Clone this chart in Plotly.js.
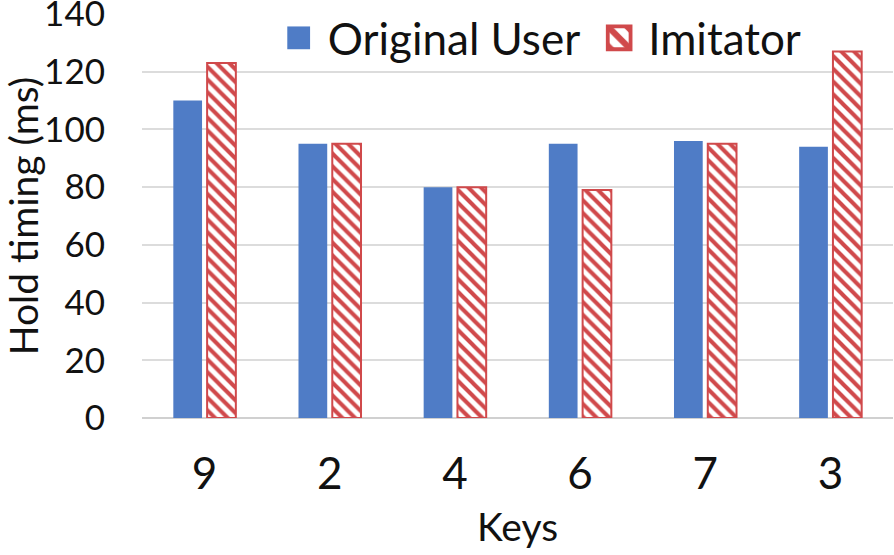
<!DOCTYPE html>
<html>
<head>
<meta charset="utf-8">
<script src="https://cdn.plot.ly/plotly-3.0.1.min.js"></script>
<style>
  html, body { margin: 0; padding: 0; background: #fff; }
  #chart { width: 894px; height: 555px; }
</style>
</head>
<body>
<div id="chart"></div>
<script>
// hold timing per key, original user vs imitator (ms)
const keys = ["9", "2", "4", "6", "7", "3"];
const originalUser = [110, 95, 80, 95, 96, 94];
const imitator = [123, 95, 80, 79, 95, 127];
const yTicks = [0, 20, 40, 60, 80, 100, 120, 140];

const font = "Lato, 'Open Sans', sans-serif";

const traces = [
  {
    x: keys, y: originalUser, name: "Original User", type: "bar",
    marker: { color: "#4f7cc6", line: { width: 0 } }
  },
  {
    x: keys, y: imitator, name: "Imitator", type: "bar",
    marker: {
      color: "#ffffff",
      line: { color: "#d0494b", width: 2 },
      pattern: { shape: "\\", fgcolor: "#d0494b", bgcolor: "#ffffff", size: 9, solidity: 0.45 }
    }
  }
];

const layout = {
  width: 894, height: 555,
  paper_bgcolor: "white", plot_bgcolor: "white",
  margin: { l: 142, r: 1, t: 14, b: 137 },
  font: { family: font, color: "#111", size: 35 },
  barmode: "group", bargap: 0.46, bargroupgap: 0.15,
  showlegend: true,
  legend: {
    orientation: "h", x: 0.182, y: 0.94, xanchor: "left", yanchor: "middle",
    bgcolor: "rgba(255,255,255,0)", font: { size: 44 },
    traceorder: "normal"
  },
  xaxis: {
    type: "category",
    showgrid: false, showline: false, zeroline: false, ticks: "",
    tickfont: { size: 44 }, ticklabelstandoff: 26,
    title: { text: "Keys", font: { size: 39 }, standoff: 16 }
  },
  yaxis: {
    range: [0, 140], tickvals: yTicks, showgrid: true, gridcolor: "#dcdcdc", gridwidth: 2,
    zeroline: true, zerolinecolor: "#d0d0d0", zerolinewidth: 2,
    ticks: "", ticklabelstandoff: 36, ticklabeloverflow: "allow",
    title: { text: "Hold timing (ms)", font: { size: 39 }, standoff: 4 }
  }
};

Plotly.newPlot("chart", traces, layout, { displayModeBar: false, staticPlot: true }).then(function () {
  // the reference legend swatches are much bigger than plotly's 12px squares,
  // and the text sits further from them
  document.querySelectorAll("#chart .legendpoints path").forEach(function (p) {
    const t = p.getAttribute("transform") || "";
    p.setAttribute("transform", t + " scale(1.9)");
  });
  document.querySelectorAll("#chart .legendtext").forEach(function (el) {
    el.setAttribute("transform", "translate(9,0)");
  });
  // space between the two legend entries
  const items = document.querySelectorAll("#chart .legend .traces");
  if (items.length > 1) {
    const t = items[1].getAttribute("transform") || "";
    items[1].setAttribute("transform", t + " translate(23,0)");
  }
  // moved items would otherwise be cut by the legend's clip box
  document.querySelectorAll("#chart .legend [clip-path]").forEach(function (el) {
    el.removeAttribute("clip-path");
  });
});
</script>
</body>
</html>
